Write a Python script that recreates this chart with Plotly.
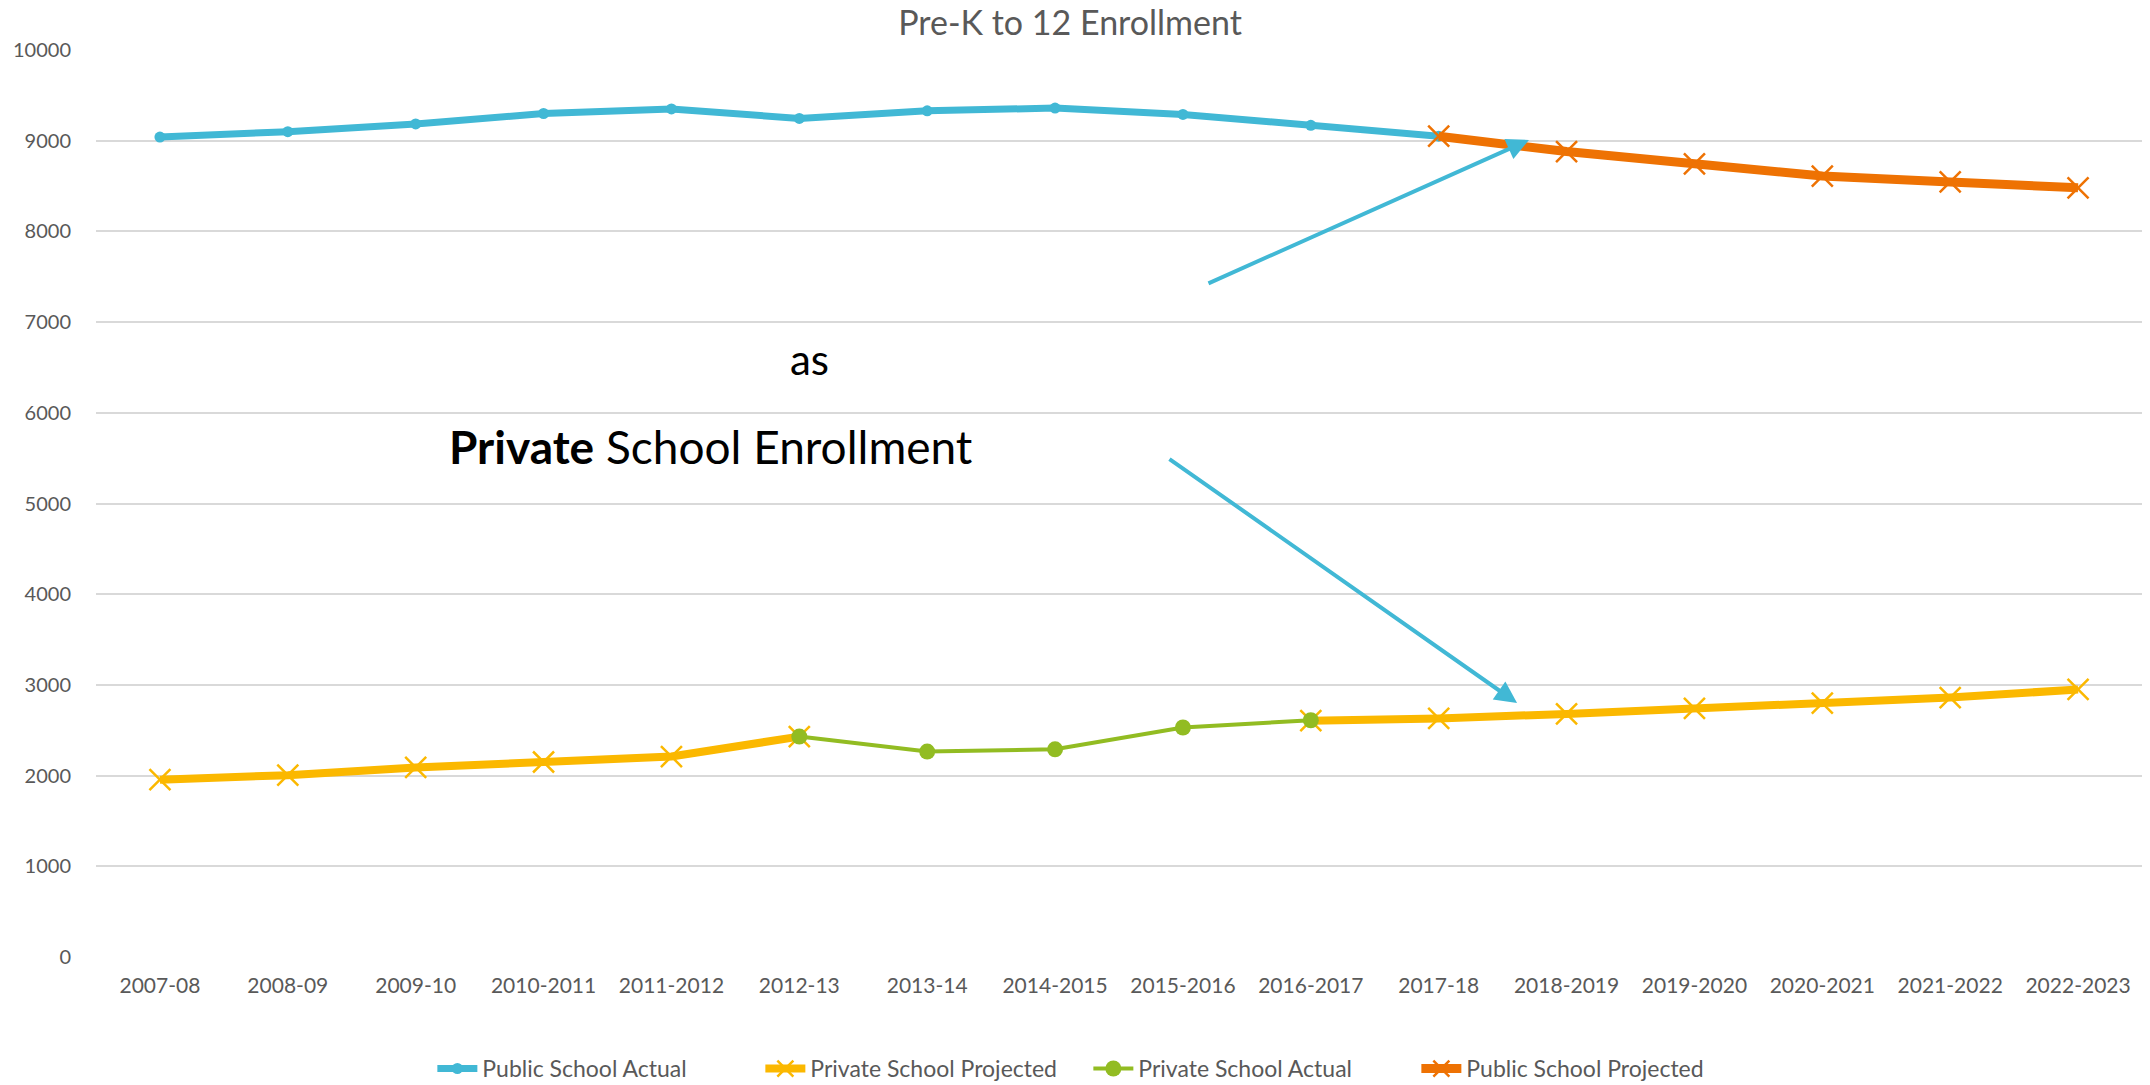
import plotly.graph_objects as go

years = ["2007-08", "2008-09", "2009-10", "2010-2011", "2011-2012", "2012-13",
         "2013-14", "2014-2015", "2015-2016", "2016-2017", "2017-18", "2018-2019",
         "2019-2020", "2020-2021", "2021-2022", "2022-2023"]

public_actual_years = years[0:11]
public_actual = [9040, 9100, 9185, 9300, 9350, 9245, 9330, 9360, 9290, 9170, 9050]

public_proj_years = years[10:16]
public_projected = [9050, 8880, 8745, 8610, 8545, 8480]

private_proj_years = years
private_projected = [1955, 2005, 2090, 2150, 2210, 2430, None, None, None, 2605,
                     2630, 2680, 2740, 2800, 2860, 2950]

private_actual_years = years[5:10]
private_actual = [2430, 2265, 2290, 2530, 2610]

y_ticks = [0, 1000, 2000, 3000, 4000, 5000, 6000, 7000, 8000, 9000, 10000]
y_tick_labels = [str(v) for v in y_ticks]

BLUE = "#41B8D5"
YELLOW = "#FBB800"
GREEN = "#92BC22"
ORANGE = "#EE7203"
GRAY = "#595959"
FONT = "Lato"

fig = go.Figure()

fig.add_trace(go.Scatter(
    x=public_actual_years, y=public_actual, name="Public School Actual",
    mode="lines+markers", line=dict(color=BLUE, width=7),
    marker=dict(symbol="circle", size=11, color=BLUE)))

fig.add_trace(go.Scatter(
    x=private_proj_years, y=private_projected, name="Private School Projected",
    mode="lines+markers", connectgaps=False, line=dict(color=YELLOW, width=8),
    marker=dict(symbol="x-thin", size=21, color=YELLOW,
                line=dict(color=YELLOW, width=2.5))))

fig.add_trace(go.Scatter(
    x=private_actual_years, y=private_actual, name="Private School Actual",
    mode="lines+markers", line=dict(color=GREEN, width=4),
    marker=dict(symbol="circle", size=16, color=GREEN)))

fig.add_trace(go.Scatter(
    x=public_proj_years, y=public_projected, name="Public School Projected",
    mode="lines+markers", line=dict(color=ORANGE, width=9),
    marker=dict(symbol="x-thin", size=21, color=ORANGE,
                line=dict(color=ORANGE, width=2.5))))

fig.update_layout(
    width=2150, height=1085,
    margin=dict(l=96, r=8, t=50, b=128, autoexpand=False),
    paper_bgcolor="white", plot_bgcolor="white",
    font=dict(family=FONT, color=GRAY, size=20),
    title=dict(text="Pre-K to 12 Enrollment", x=0.4977, xanchor="center",
               y=0.979, yanchor="middle", yref="container",
               font=dict(family=FONT, size=34, color=GRAY)),
    xaxis=dict(type="category", categoryorder="array", categoryarray=years,
               range=[-0.5, 15.5], showgrid=False, showline=False, ticks="",
               ticklabelstandoff=14, tickfont=dict(size=21, color=GRAY)),
    yaxis=dict(range=[0, 10000], tickvals=y_ticks, ticktext=y_tick_labels,
               showgrid=True, gridcolor="#D9D9D9", gridwidth=2, zeroline=False,
               showline=False, ticks="", ticklabelstandoff=24,
               tickfont=dict(size=20, color=GRAY)),
    legend=dict(orientation="h", x=0.1644, xanchor="left", y=-0.123,
                yanchor="middle", font=dict(size=23, color=GRAY),
                traceorder="normal", itemwidth=40,
                entrywidth=273, entrywidthmode="pixels"),
    showlegend=True,
)

# text annotations
fig.add_annotation(x=5.076, y=6593, xref="x", yref="y", text="as",
                   showarrow=False, font=dict(family=FONT, size=42, color="black"))
fig.add_annotation(x=4.309, y=5634, xref="x", yref="y",
                   text="<b>Private</b> School Enrollment",
                   showarrow=False, font=dict(family=FONT, size=46, color="black"))

# arrows
fig.add_annotation(x=10.706, y=9008, ax=8.188, ay=7420, xref="x", yref="y",
                   axref="x", ayref="y", text="", showarrow=True,
                   arrowhead=2, arrowsize=1.1, arrowwidth=4, arrowcolor=BLUE,
                   standoff=0, startstandoff=0)
fig.add_annotation(x=10.613, y=2800, ax=7.883, ay=5502, xref="x", yref="y",
                   axref="x", ayref="y", text="", showarrow=True,
                   arrowhead=2, arrowsize=1.1, arrowwidth=4, arrowcolor=BLUE,
                   standoff=0, startstandoff=0)

fig.write_html("out.html", config={"displayModeBar": False},
               post_script="document.body.style.margin='0';")
